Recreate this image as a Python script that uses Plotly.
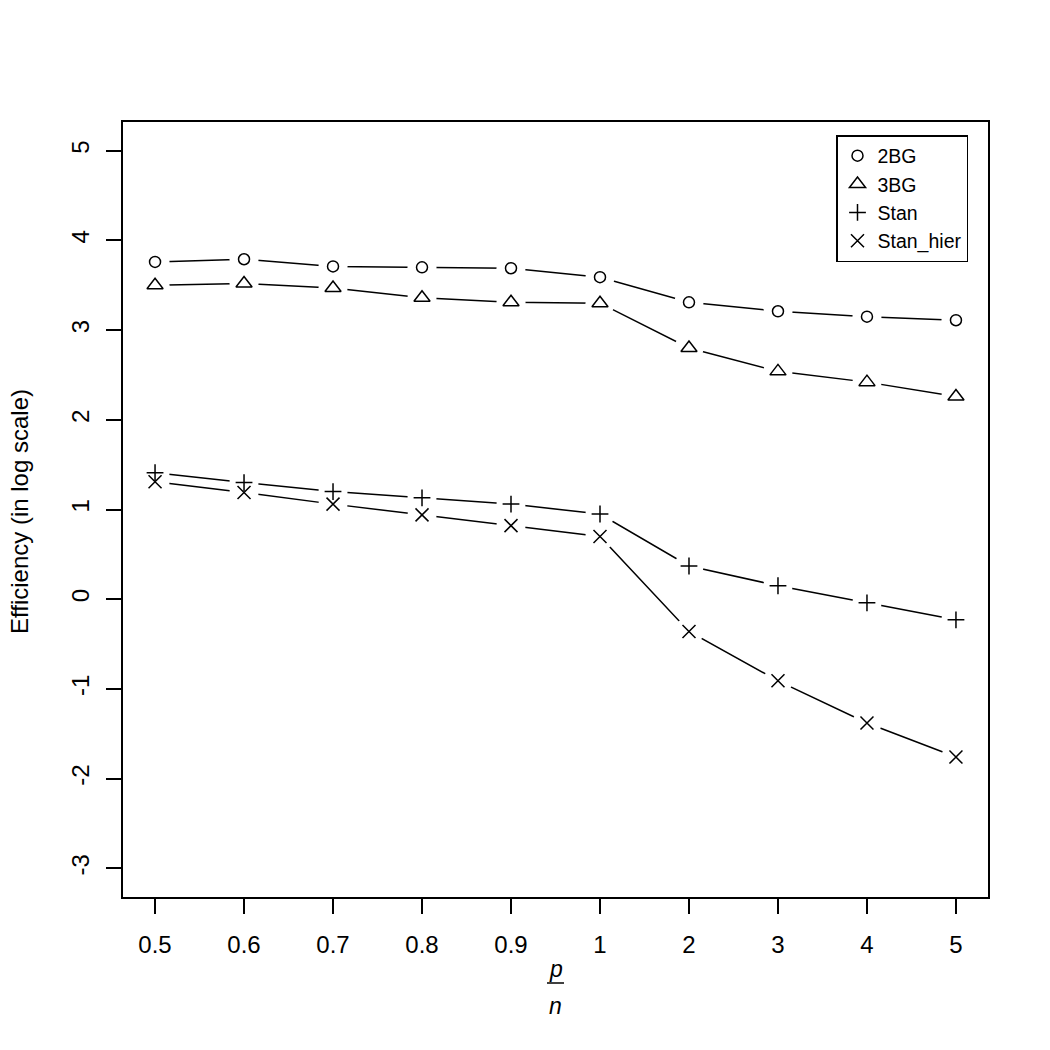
import plotly.graph_objects as go

ratio_labels = ["0.5", "0.6", "0.7", "0.8", "0.9", "1", "2", "3", "4", "5"]
eff_2bg = [3.76, 3.79, 3.71, 3.70, 3.69, 3.59, 3.31, 3.21, 3.15, 3.11]
eff_3bg = [3.50, 3.52, 3.47, 3.36, 3.31, 3.30, 2.80, 2.54, 2.42, 2.26]
eff_stan = [1.41, 1.30, 1.20, 1.13, 1.06, 0.95, 0.37, 0.15, -0.04, -0.23]
eff_stan_hier = [1.31, 1.19, 1.06, 0.94, 0.82, 0.70, -0.36, -0.91, -1.38, -1.76]
y_ticks = [-3, -2, -1, 0, 1, 2, 3, 4, 5]

series = [
    ("2BG", eff_2bg, "circle-open", 11),
    ("3BG", eff_3bg, "triangle-up-open", 14),
    ("Stan", eff_stan, "cross-thin-open", 12),
    ("Stan_hier", eff_stan_hier, "x-thin-open", 13),
]
xs = list(range(len(ratio_labels)))

# plot area in pixels
L, R, T, B = 123, 988, 122, 897
W, H = 1050, 1050
def py(p):
    return (B - p) / (B - T)
def px(p):
    return (p - L) / (R - L)

fig = go.Figure()
# connecting lines
for name, vals, sym, sz in series:
    fig.add_trace(go.Scatter(x=xs, y=vals, mode="lines", line=dict(color="black", width=1.5),
                             showlegend=False, hoverinfo="skip"))
# white discs leave the gap around each point (R type="b")
for name, vals, sym, sz in series:
    fig.add_trace(go.Scatter(x=xs, y=vals, mode="markers",
                             marker=dict(symbol="circle", size=29, color="white", line=dict(width=0)),
                             showlegend=False, hoverinfo="skip"))
# point symbols
for name, vals, sym, sz in series:
    fig.add_trace(go.Scatter(x=xs, y=vals, mode="markers", name=name,
                             marker=dict(symbol=sym, size=sz, color="black",
                                         line=dict(color="black", width=1.5))))

font = "Liberation Sans, Arial, Helvetica, sans-serif"
fig.update_layout(
    width=W, height=H,
    margin=dict(l=L, r=W - R, t=T, b=H - B),
    paper_bgcolor="white", plot_bgcolor="white",
    font=dict(family=font, size=24, color="black"),
    xaxis=dict(range=[-0.36, 9.36], tickvals=xs, ticktext=ratio_labels,
               showgrid=False, zeroline=False, showline=True, mirror=True,
               linecolor="black", linewidth=1.5, ticks="outside", ticklen=15,
               tickwidth=1.5, tickcolor="black", ticklabelstandoff=10,
               tickfont=dict(size=24)),
    yaxis=dict(range=[-3.32, 5.32], tickvals=y_ticks, ticktext=[str(v) for v in y_ticks],
               showgrid=False, zeroline=False, showline=True, mirror=True,
               linecolor="black", linewidth=1.5, ticks="outside", ticklen=15,
               tickwidth=1.5, tickcolor="black", tickangle=-90, ticklabelstandoff=8,
               tickfont=dict(size=24)),
    legend=dict(x=px(836), y=py(135), xanchor="left", yanchor="top",
                bordercolor="black", borderwidth=1.5, bgcolor="white",
                font=dict(size=19.5), itemwidth=30, tracegroupgap=0),
    annotations=[
        dict(text="Efficiency (in log scale)", textangle=-90, x=px(20), xref="paper",
             y=py(512), yref="paper", showarrow=False, xanchor="center", yanchor="middle",
             font=dict(size=24)),
        dict(text="<i>p</i>", x=px(555.5), y=py(969), xref="paper", yref="paper",
             showarrow=False, xanchor="center", yanchor="middle", font=dict(size=23)),
        dict(text="<i>n</i>", x=px(555.5), y=py(1006), xref="paper", yref="paper",
             showarrow=False, xanchor="center", yanchor="middle", font=dict(size=23)),
    ],
    shapes=[
        dict(type="line", xref="paper", yref="paper", x0=px(547), x1=px(564),
             y0=py(983), y1=py(983), line=dict(color="black", width=1.5)),
    ],
)

fig.write_html("out.html")
